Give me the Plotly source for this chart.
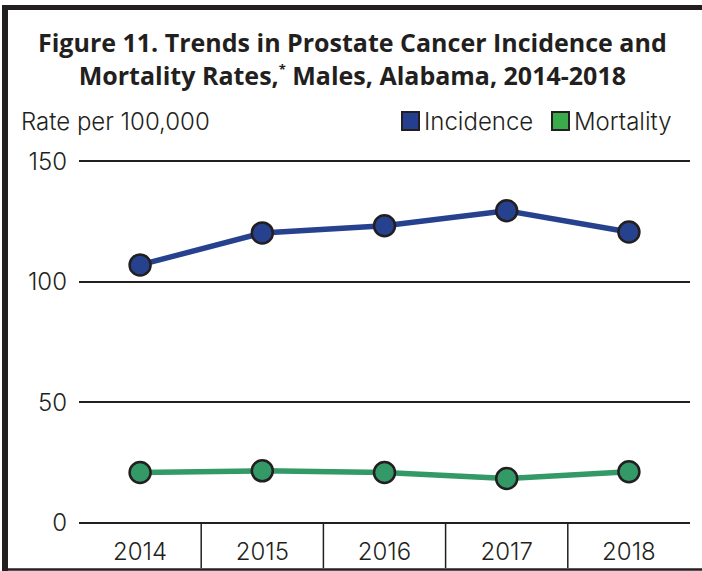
import plotly.graph_objects as go

years = ["2014", "2015", "2016", "2017", "2018"]
incidence = [107.0, 120.3, 123.3, 129.5, 120.7]
mortality = [20.8, 21.5, 20.8, 18.3, 21.1]
yticks = [0, 50, 100, 150]

W, H = 702, 571
L, R, T, B = 79, 12, 159, 46
PW, PH = W - L - R, H - T - B

def px(x):
    return (x - L) / PW

def py(y):
    return (H - B - y) / PH

BLUE = "#26428F"
GREEN = "#339966"
INK = "#231f20"
FONT = "Inter"

fig = go.Figure()
fig.add_trace(go.Scatter(
    x=years, y=incidence, mode="lines+markers", name="Incidence",
    line=dict(color=BLUE, width=5.5),
    marker=dict(size=21, color=BLUE, line=dict(color=INK, width=2.5)),
    cliponaxis=False, showlegend=False))
fig.add_trace(go.Scatter(
    x=years, y=mortality, mode="lines+markers", name="Mortality",
    line=dict(color=GREEN, width=5.5),
    marker=dict(size=21, color=GREEN, line=dict(color=INK, width=2.5)),
    cliponaxis=False, showlegend=False))

shapes = []
# category dividers below the axis
for i in range(len(years) - 1):
    shapes.append(dict(type="line", xref="x", yref="paper",
                       x0=i + 0.5, x1=i + 0.5, y0=py(523), y1=py(568),
                       line=dict(color=INK, width=1.5), layer="below"))
# frame
shapes.append(dict(type="line", xref="paper", yref="paper",
                   x0=px(5), x1=px(5), y0=py(5), y1=py(571),
                   line=dict(color=INK, width=6)))
shapes.append(dict(type="line", xref="paper", yref="paper",
                   x0=px(2), x1=px(702), y0=py(7.5), y1=py(7.5),
                   line=dict(color=INK, width=5)))
shapes.append(dict(type="line", xref="paper", yref="paper",
                   x0=px(2), x1=px(702), y0=py(569.5), y1=py(569.5),
                   line=dict(color=INK, width=2.5)))
# legend squares
shapes.append(dict(type="rect", xref="paper", yref="paper",
                   x0=px(402), x1=px(419), y0=py(112), y1=py(130),
                   fillcolor="#253F8F", line=dict(color=INK, width=2)))
shapes.append(dict(type="rect", xref="paper", yref="paper",
                   x0=px(552), x1=px(569), y0=py(112), y1=py(130),
                   fillcolor="#3BAA4B", line=dict(color=INK, width=2)))

annotations = [
    dict(text="<b>Figure 11. Trends in Prostate Cancer Incidence and<br>Mortality Rates,<sup><span style='font-size:13px'>*</span></sup> Males, Alabama, 2014-2018</b>",
         xref="paper", yref="paper", x=px(352), y=py(59), xanchor="center", yanchor="middle",
         showarrow=False, font=dict(family="Open Sans", size=25, color=INK), align="center"),
    dict(text="Rate per 100,000", xref="paper", yref="paper", x=px(19), y=py(121),
         xanchor="left", yanchor="middle", showarrow=False,
         font=dict(family=FONT, size=24, color=INK, weight=300)),
    dict(text="Incidence", xref="paper", yref="paper", x=px(422), y=py(121),
         xanchor="left", yanchor="middle", showarrow=False,
         font=dict(family=FONT, size=24, color=INK, weight=300)),
    dict(text="Mortality", xref="paper", yref="paper", x=px(572), y=py(121),
         xanchor="left", yanchor="middle", showarrow=False,
         font=dict(family=FONT, size=24, color=INK, weight=300)),
]

fig.update_layout(
    width=W, height=H,
    margin=dict(l=L, r=R, t=T, b=B, autoexpand=False),
    paper_bgcolor="white", plot_bgcolor="white",
    shapes=shapes, annotations=annotations,
    font=dict(family=FONT, size=23, color=INK),
)
fig.update_xaxes(type="category", range=[-0.5, 4.5], showgrid=False,
                 showline=False, zeroline=False, ticks="", automargin=False,
                 tickfont=dict(family=FONT, size=24, color=INK, weight=300),
                 ticklabelstandoff=10)
fig.update_yaxes(range=[-1, 151], tickvals=yticks, showgrid=True,
                 gridcolor=INK, gridwidth=2, zeroline=False, automargin=False,
                 showline=False, ticks="",
                 tickfont=dict(family=FONT, size=24, color=INK, weight=300),
                 ticklabelstandoff=11)

fig.write_html("out.html", config={"displayModeBar": False},
               post_script="document.body.style.margin='0';document.body.style.overflow='hidden';")
